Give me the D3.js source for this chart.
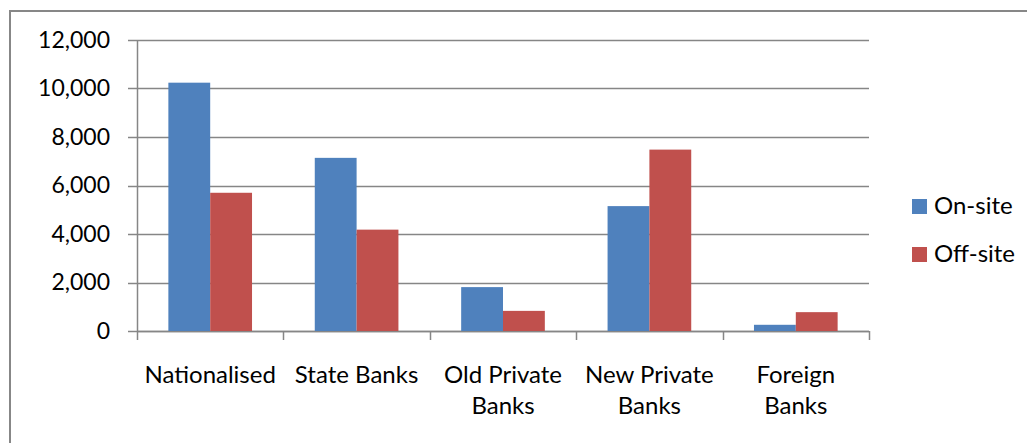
<!DOCTYPE html>
<html>
<head>
<meta charset="utf-8">
<script src="https://cdn.jsdelivr.net/npm/d3@7"></script>
<style>
  body { margin: 0; background: #fff; }
  text { font-family: Lato, "Open Sans", sans-serif; fill: #000; }
</style>
</head>
<body>
<div id="chart"></div>
<script>
// data
var categories = [["Nationalised"], ["State Banks"], ["Old Private", "Banks"], ["New Private", "Banks"], ["Foreign", "Banks"]];
var seriesNames = ["On-site", "Off-site"];
var onSite = [10240, 7140, 1810, 5150, 256];
var offSite = [5700, 4180, 830, 7480, 777];
var yTicks = [0, 2000, 4000, 6000, 8000, 10000, 12000];
var colors = ["#4F81BD", "#C0504D"];

var W = 1027, H = 443;
var margin = {top: 40, left: 137, right: 158, bottom: 112};
var width = W - margin.left - margin.right,
    height = H - margin.top - margin.bottom;

var svg = d3.select("#chart").append("svg")
    .attr("width", W)
    .attr("height", H);

// outer chart border (right/bottom run off the picture)
svg.append("path")
    .attr("d", "M10,460 L10,11 L1040,11")
    .attr("fill", "none")
    .attr("stroke", "#878787")
    .attr("stroke-width", 2);

var g = svg.append("g")
    .attr("transform", "translate(" + margin.left + "," + margin.top + ")");

var keys = categories.map(function(d) { return d.join(" "); });

var x = d3.scaleBand()
    .domain(keys)
    .range([0, width])
    .paddingInner(0)
    .paddingOuter(0);

var x1 = d3.scaleBand()
    .domain(seriesNames)
    .range([0, x.bandwidth()])
    .paddingOuter(0.75)
    .paddingInner(0);

var y = d3.scaleLinear()
    .domain([0, 12000])
    .range([height, 0]);

// gridlines
g.append("g").selectAll("line")
  .data(yTicks)
  .enter().append("line")
    .attr("x1", -9)
    .attr("x2", width)
    .attr("y1", function(d) { return Math.round(y(d)) + 0.5; })
    .attr("y2", function(d) { return Math.round(y(d)) + 0.5; })
    .attr("stroke", "#868686")
    .attr("stroke-width", 1.5);

// y axis
var yAxis = g.append("g")
    .call(d3.axisLeft(y).tickValues(yTicks).tickSize(0).tickPadding(27)
      .tickFormat(d3.format(",")));
yAxis.select(".domain")
    .attr("stroke", "#868686")
    .attr("stroke-width", 1.5)
    .attr("d", "M0.5,0V" + height);
yAxis.selectAll("text")
    .style("font-size", "23px")
    .style("font-family", "Lato");

// x axis line and ticks
var xg = g.append("g").attr("transform", "translate(0," + height + ")");
xg.append("line")
    .attr("x1", 0).attr("x2", width)
    .attr("y1", 0.5).attr("y2", 0.5)
    .attr("stroke", "#868686").attr("stroke-width", 1.5);
var bounds = keys.map(function(k) { return x(k); }).concat([width]);
xg.selectAll("line.tk")
  .data(bounds)
  .enter().append("line")
    .attr("class", "tk")
    .attr("x1", function(d) { return Math.round(d) + 0.5; })
    .attr("x2", function(d) { return Math.round(d) + 0.5; })
    .attr("y1", 0).attr("y2", 9)
    .attr("stroke", "#868686").attr("stroke-width", 1.5);

// category labels
var lab = xg.selectAll("text.cat")
  .data(categories)
  .enter().append("text")
    .attr("class", "cat")
    .attr("text-anchor", "middle")
    .style("font-size", "24px")
    .attr("x", function(d) { return x(d.join(" ")) + x.bandwidth() / 2; })
    .attr("y", 52);
lab.selectAll("tspan")
  .data(function(d) { return d; })
  .enter().append("tspan")
    .attr("x", function() { return d3.select(this.parentNode).attr("x"); })
    .attr("dy", function(d, i) { return i === 0 ? 0 : 31; })
    .text(function(d) { return d; });

// bars
var groups = g.selectAll("g.grp")
  .data(keys)
  .enter().append("g")
    .attr("class", "grp")
    .attr("transform", function(d) { return "translate(" + x(d) + ",0)"; });

groups.selectAll("rect")
  .data(function(d, i) { return [onSite[i], offSite[i]]; })
  .enter().append("rect")
    .attr("x", function(d, j) { return x1(seriesNames[j]); })
    .attr("y", function(d) { return y(d); })
    .attr("width", x1.bandwidth())
    .attr("height", function(d) { return height - y(d); })
    .attr("fill", function(d, j) { return colors[j]; });

// legend
var leg = svg.append("g").attr("transform", "translate(912,199)");
var li = leg.selectAll("g")
  .data(seriesNames)
  .enter().append("g")
    .attr("transform", function(d, i) { return "translate(0," + i * 48 + ")"; });
li.append("rect")
    .attr("width", 15).attr("height", 15)
    .attr("fill", function(d, i) { return colors[i]; });
li.append("text")
    .attr("x", 22).attr("y", 15)
    .style("font-size", "24px")
    .text(function(d) { return d; });
</script>
</body>
</html>
